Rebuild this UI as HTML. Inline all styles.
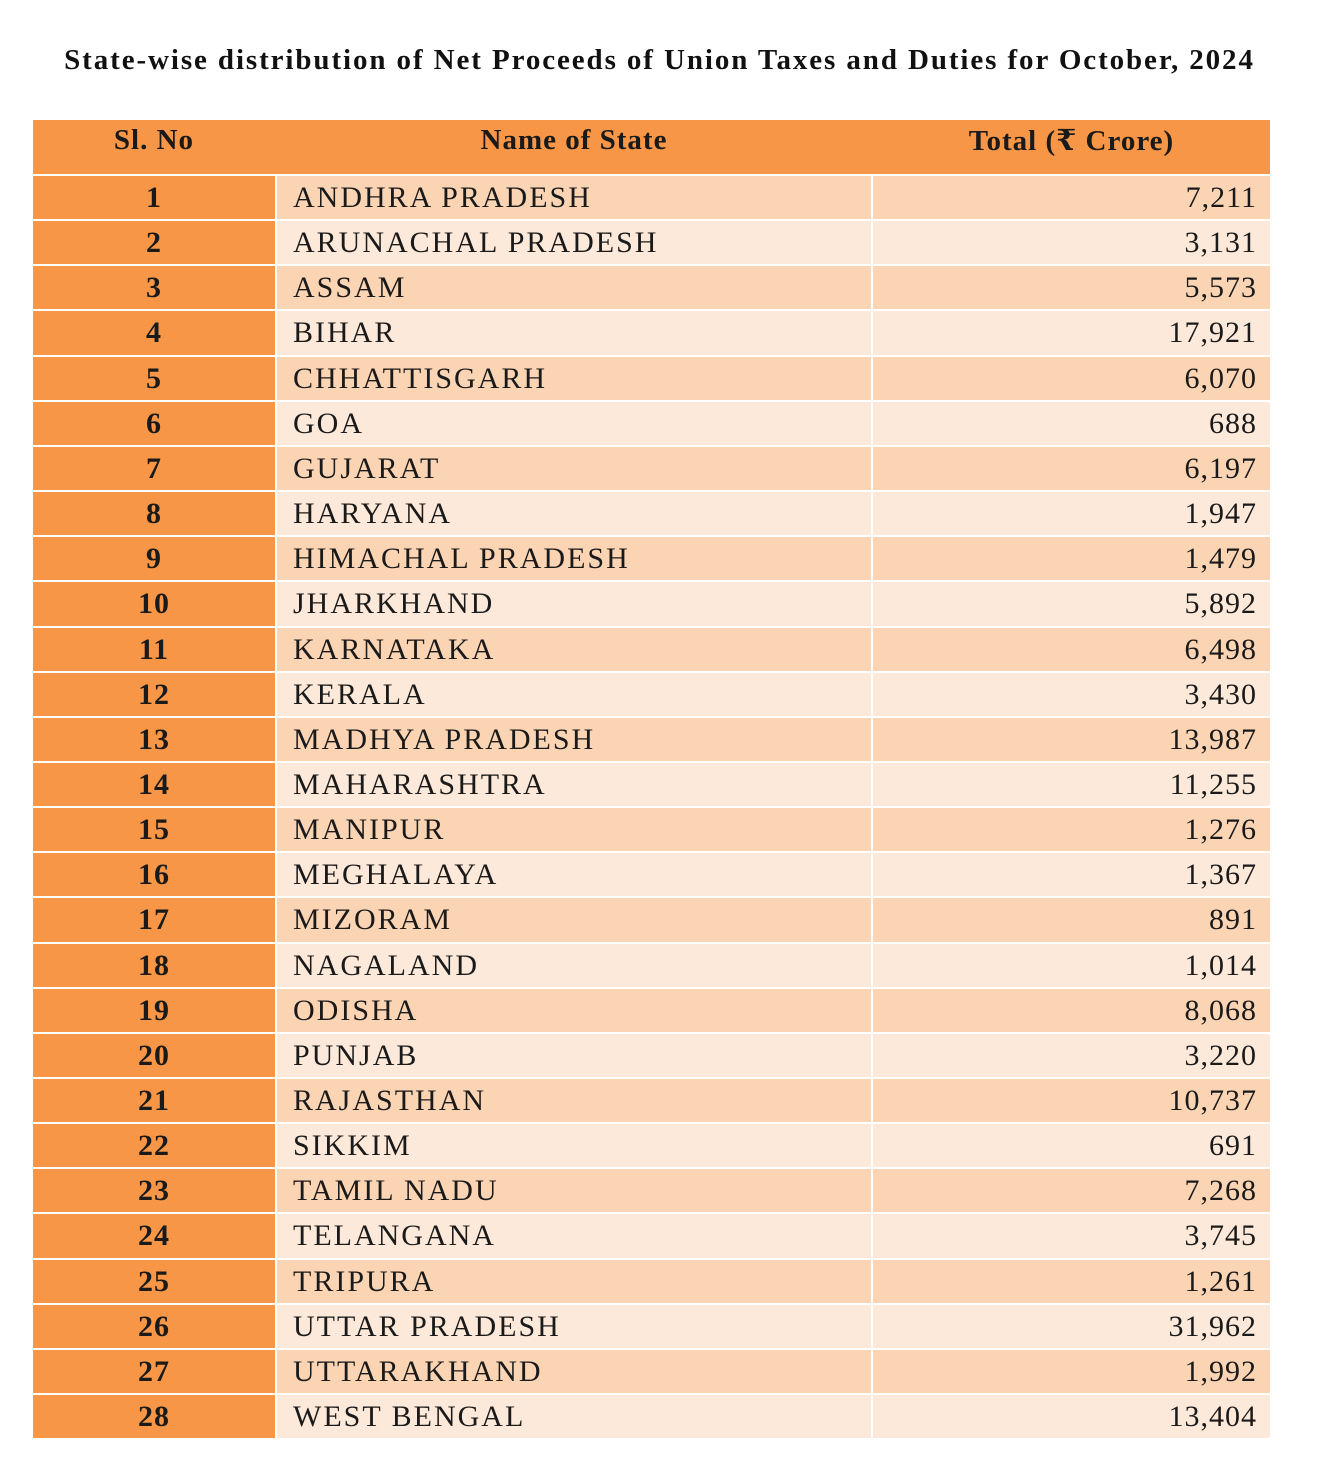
<!DOCTYPE html>
<html><head><meta charset="utf-8"><style>
body{margin:0;background:#fff;width:1319px;height:1473px;position:relative;font-family:"Liberation Serif","Times New Roman","DejaVu Serif",serif;overflow:hidden}
#title{position:absolute;left:0;width:1319px;top:44px;text-align:center;font-weight:bold;font-size:29px;letter-spacing:1.9px;color:#111;white-space:nowrap}
.c{position:absolute;box-sizing:border-box;display:flex;align-items:center;font-size:30px;letter-spacing:2px;color:#1a1a1a;white-space:nowrap}
.h{background:#F79646;font-weight:bold;justify-content:center;font-size:29px}
</style></head><body>
<div id="title">State-wise distribution of Net Proceeds of Union Taxes and Duties for October, 2024</div>
<div id="tbl"></div>
<script>
const states=["ANDHRA PRADESH","ARUNACHAL PRADESH","ASSAM","BIHAR","CHHATTISGARH","GOA","GUJARAT","HARYANA","HIMACHAL PRADESH","JHARKHAND","KARNATAKA","KERALA","MADHYA PRADESH","MAHARASHTRA","MANIPUR","MEGHALAYA","MIZORAM","NAGALAND","ODISHA","PUNJAB","RAJASTHAN","SIKKIM","TAMIL NADU","TELANGANA","TRIPURA","UTTAR PRADESH","UTTARAKHAND","WEST BENGAL"];
const totals=[7211,3131,5573,17921,6070,688,6197,1947,1479,5892,6498,3430,13987,11255,1276,1367,891,1014,8068,3220,10737,691,7268,3745,1261,31962,1992,13404];
const headers=["Sl. No","Name of State","Total (₹ Crore)"];
const t=document.getElementById('tbl');
function cell(x,y,w,h,txt,cls,bg,name){
  const d=document.createElement('div');
  d.className='c '+cls;
  d.style.left=x+'px';d.style.top=y+'px';d.style.width=w+'px';d.style.height=h+'px';
  if(bg)d.style.background=bg;
  d.textContent=txt;
  
  
  t.appendChild(d);return d;
}
cell(33,120,1237,54,'','h',null,'header-row');
[[33,242],[277,594],[873,397]].forEach((c,i)=>{
  const d=cell(c[0],120,c[1],54,headers[i],'h',null,'header-'+i);
  d.style.paddingBottom='14px';d.style.letterSpacing='1px';
});
const rh=45.15, y0=176;
states.forEach((s,i)=>{
  const y=Math.round(y0+i*rh), h=Math.round(y0+(i+1)*rh)-y-2;
  const bg=i%2==0?'#FBD4B4':'#FDE9D9';
  const a=cell(33,y,242,h,String(i+1),'h',null,'sl-no-'+(i+1));
  a.style.fontSize='30px';a.style.letterSpacing='1px';
  const b=cell(277,y,594,h,s,'',bg,'state-name-'+(i+1));
  b.style.paddingLeft='16px';
  const c=cell(873,y,397,h,totals[i].toLocaleString('en-US'),'',bg,'total-'+(i+1));
  c.style.justifyContent='flex-end';c.style.paddingRight='13px';c.style.letterSpacing='1px';
});
</script>
</body></html>
